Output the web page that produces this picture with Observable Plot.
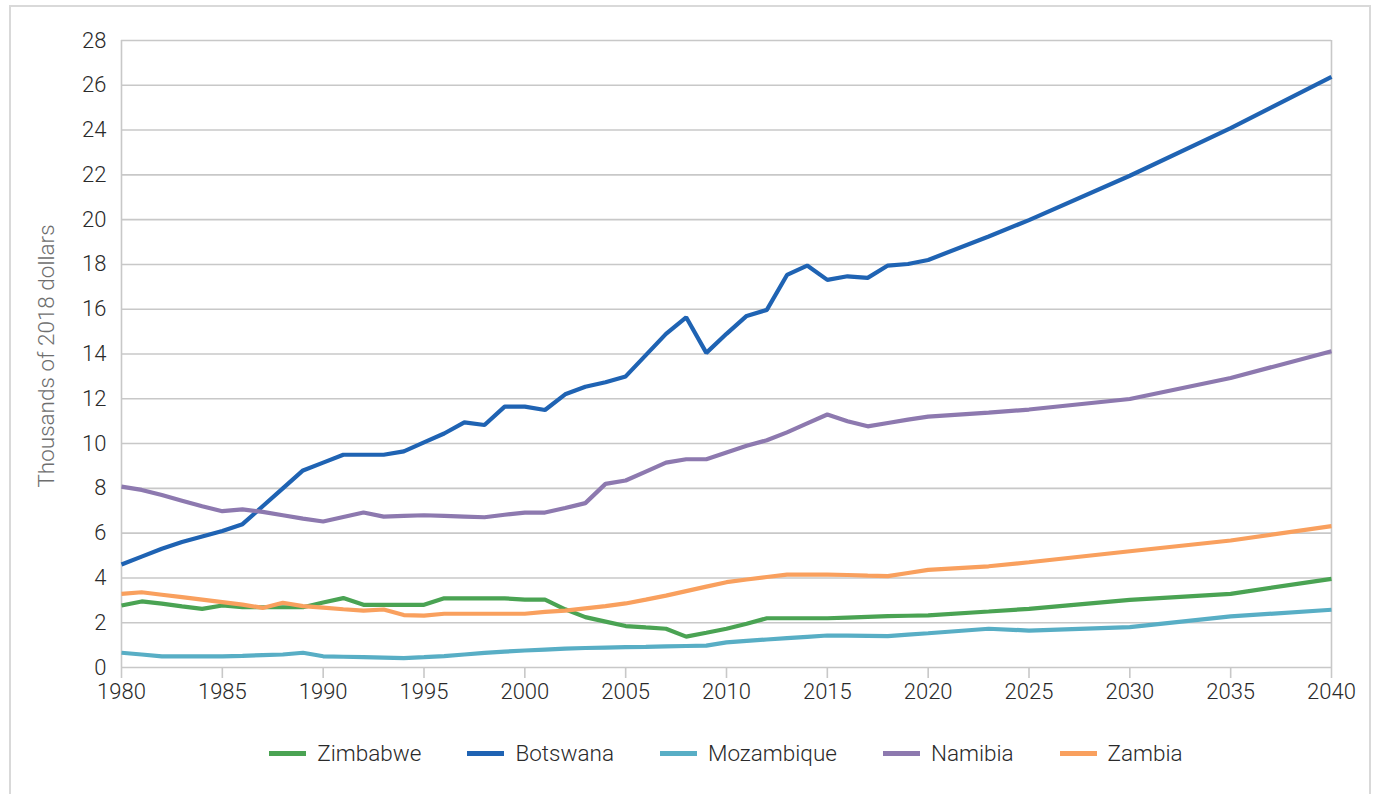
<!DOCTYPE html>
<html>
<head>
<meta charset="utf-8">
<script src="https://cdn.jsdelivr.net/npm/d3@7"></script>
<script src="https://cdn.jsdelivr.net/npm/@observablehq/plot@0.6"></script>
<style>
  html, body { margin: 0; padding: 0; background: #fff; overflow: hidden; }
  body { width: 1381px; height: 794px; position: relative; font-family: Roboto, "Liberation Sans", Arial, sans-serif; }
  #frame { position: absolute; left: 9px; top: 5px; width: 1362px; height: 820px; border: 2px solid #d9d9d9; box-sizing: border-box; }
  #chart { position: absolute; left: 0; top: 0; }
  #ytitle { position: absolute; left: 46px; top: 356px; transform: translate(-50%, -50%) rotate(-90deg); white-space: nowrap; font-size: 22.5px; font-weight: 300; color: #6e6e6e; }
  #legend { position: absolute; left: 0; width: 1452px; top: 740px; display: flex; justify-content: center; align-items: center; font-size: 22.5px; font-weight: 300; color: #2a2a2a; }
  .item { display: flex; align-items: center; margin: 0 23px; }
  .sw { width: 37px; height: 5px; margin-right: 11px; }
</style>
</head>
<body>
<div id="frame"></div>
<div id="chart"></div>
<div id="ytitle">Thousands of 2018 dollars</div>
<div id="legend"></div>
<script>
const years = [1980,1981,1982,1983,1984,1985,1986,1987,1988,1989,
  1990,1991,1992,1993,1994,1995,1996,1997,1998,1999,
  2000,2001,2002,2003,2004,2005,2006,2007,2008,2009,
  2010,2011,2012,2013,2014,2015,2016,2017,2018,2019,
  2020,2023,2025,2030,2035,2040];

const zimbabwe = [2.77,2.95,2.85,2.73,2.62,2.77,2.69,2.69,2.69,2.69,
  2.9,3.1,2.8,2.8,2.8,2.8,3.09,3.09,3.09,3.09,
  3.03,3.03,2.6,2.25,2.05,1.85,1.79,1.73,1.38,1.55,
  1.73,1.95,2.2,2.2,2.2,2.2,2.23,2.26,2.29,2.31,
  2.33,2.5,2.62,3.02,3.29,3.96];

const botswana = [4.6,4.95,5.3,5.6,5.85,6.1,6.4,7.2,8.0,8.8,
  9.15,9.5,9.5,9.5,9.65,10.05,10.45,10.95,10.83,11.65,
  11.65,11.5,12.2,12.54,12.74,13.0,13.95,14.9,15.64,14.05,
  14.9,15.7,15.97,17.53,17.95,17.31,17.47,17.4,17.95,18.02,
  18.2,19.25,19.98,21.96,24.09,26.38];

const mozambique = [0.66,0.58,0.5,0.5,0.5,0.5,0.52,0.55,0.58,0.66,
  0.5,0.48,0.46,0.44,0.42,0.46,0.51,0.58,0.65,0.71,
  0.76,0.8,0.84,0.87,0.89,0.91,0.92,0.94,0.96,0.98,
  1.12,1.19,1.25,1.31,1.37,1.43,1.42,1.41,1.4,1.47,
  1.53,1.73,1.65,1.8,2.28,2.58];

const namibia = [8.08,7.93,7.7,7.45,7.2,6.98,7.06,6.95,6.8,6.65,
  6.52,6.72,6.92,6.74,6.77,6.8,6.77,6.74,6.71,6.82,
  6.92,6.92,7.12,7.34,8.2,8.35,8.75,9.15,9.3,9.3,
  9.6,9.9,10.15,10.5,10.9,11.3,11.0,10.77,10.92,11.07,
  11.2,11.38,11.52,11.99,12.93,14.12];

const zambia = [3.29,3.36,3.25,3.14,3.03,2.92,2.81,2.66,2.89,2.74,
  2.67,2.6,2.54,2.59,2.34,2.32,2.4,2.4,2.4,2.4,
  2.4,2.48,2.54,2.64,2.74,2.86,3.03,3.21,3.41,3.61,
  3.81,3.93,4.04,4.15,4.15,4.15,4.13,4.1,4.08,4.22,
  4.36,4.52,4.7,5.19,5.67,6.31];

const seriesNames = ["Zimbabwe", "Botswana", "Mozambique", "Namibia", "Zambia"];
const seriesValues = [zimbabwe, botswana, mozambique, namibia, zambia];
const seriesColors = ["#4aa353", "#1f63b3", "#58aec5", "#8d79af", "#f9a05e"];
const yTicks = [0,2,4,6,8,10,12,14,16,18,20,22,24,26,28];
const xTicks = [1980,1985,1990,1995,2000,2005,2010,2015,2020,2025,2030,2035,2040];

const rows = [];
seriesNames.forEach((name, i) => {
  years.forEach((yr, j) => rows.push({series: name, year: yr, value: seriesValues[i][j]}));
});

const chart = Plot.plot({
  width: 1381,
  height: 720,
  marginLeft: 121,
  marginRight: 50,
  marginTop: 40,
  marginBottom: 53,
  style: {fontFamily: 'Roboto, "Liberation Sans", Arial, sans-serif', fontSize: "22px", fontWeight: 300, background: "transparent", overflow: "visible"},
  x: {domain: [1980, 2040]},
  y: {domain: [0, 28]},
  color: {domain: seriesNames, range: seriesColors},
  marks: [
    Plot.ruleY(yTicks, {stroke: "#c8c8c8", strokeWidth: 1.6}),
    Plot.ruleX([1980, 2040], {stroke: "#c8c8c8", strokeWidth: 1.6}),
    Plot.axisY({ticks: yTicks, tickSize: 0, tickPadding: 15, label: null, fill: "#2a2a2a", tickFormat: d => String(d)}),
    Plot.axisX({ticks: xTicks, tickSize: 11, tickPadding: 5, label: null, stroke: "#c8c8c8", strokeWidth: 1.6, fill: "#2a2a2a", tickFormat: d => String(d)}),
    Plot.line(rows, {x: "year", y: "value", z: "series", stroke: "series", strokeWidth: 4.2, strokeLinejoin: "miter", strokeLinecap: "butt"})
  ]
});
document.getElementById("chart").appendChild(chart);

const legend = document.getElementById("legend");
seriesNames.forEach((name, i) => {
  const item = document.createElement("div");
  item.className = "item";
  const sw = document.createElement("div");
  sw.className = "sw";
  sw.style.background = seriesColors[i];
  const label = document.createElement("span");
  label.textContent = name;
  item.appendChild(sw);
  item.appendChild(label);
  legend.appendChild(item);
});
</script>
</body>
</html>
